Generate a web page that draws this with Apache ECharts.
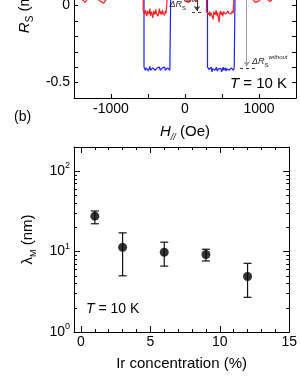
<!DOCTYPE html>
<html><head><meta charset="utf-8">
<script src="https://cdn.jsdelivr.net/npm/echarts@6/dist/echarts.min.js"></script>
<style>html,body{margin:0;padding:0;background:#fff;overflow:hidden}
#wrap{position:relative;width:300px;height:388px;overflow:hidden}
#c{position:absolute;left:0;top:-90px;width:300px;height:478px}</style>
</head><body><div id="wrap"><div id="c"></div></div><script>
// ---- Panel (a): Rs vs H ----
const redField = [
 -1500,-1450,-1400,-1350,-1300,-1250,-1200,-1150,-1100,-1050,-1000,-950,-900,-850,-800,-750,-700,-650,-600,-565,
 -565,-555,-545,-535,-525,-515,-505,-495,-485,-475,-465,-455,-445,-435,-425,-415,-405,-395,-385,-375,-365,-355,-345,-335,-325,-315,-305,-295,-285,-275,-265,-255,-245,-240,
 -240,-200,-150,-100,-50,0,50,100,150,200,250,290,
 290,300,310,320,330,340,350,360,370,380,390,400,410,420,430,440,450,460,470,480,490,500,510,520,530,540,550,560,570,580,590,600,610,620,630,640,650,662,
 662,700,750,800,850,900,950,1000,1050,1100,1150,1200,1250,1300,1350,1400,1450,1500
];
const redRs = [
 0.06,0.05,0.045,0.02,0.055,0.06,0.05,0.03,0.015,0.05,0.06,0.045,0.065,0.05,0.055,0.06,0.04,0.055,0.05,0.05,
 -0.03,
 -0.04,-0.06,-0.03,-0.05,-0.07,-0.035,-0.045,-0.055,-0.02,-0.065,-0.04,-0.05,-0.08,-0.035,-0.045,-0.06,-0.025,-0.05,-0.04,-0.07,-0.045,-0.02,-0.055,-0.04,-0.06,-0.03,-0.05,-0.045,-0.065,-0.035,-0.05,-0.04,
 -0.05,
 0.05,0.05,0.06,0.045,0.055,0.03,0.02,0.05,0.025,0.06,0.05,0.05,
 -0.04,
 -0.05,-0.03,-0.06,-0.04,-0.07,-0.045,-0.035,-0.055,-0.09,-0.04,-0.05,-0.06,-0.03,-0.065,-0.045,-0.04,-0.11,-0.05,-0.035,-0.06,-0.045,-0.07,-0.04,-0.05,-0.03,-0.055,-0.045,-0.065,-0.035,-0.05,-0.06,-0.04,-0.055,-0.045,-0.035,-0.05,
 -0.05,
 0.05,0.05,0.06,0.045,0.055,0.05,0.02,0.03,0.06,0.045,0.025,0.05,0.06,0.055,0.045,0.05,0.06,0.05
];
const blueField = [
 -1500,-1450,-1400,-1350,-1300,-1250,-1200,-1150,-1100,-1050,-1000,-950,-900,-850,-800,-750,-700,-650,-600,-554,
 -554,-545,-535,-525,-515,-505,-495,-485,-475,-465,-455,-445,-435,-425,-415,-405,-395,-385,-375,-365,-355,-345,-335,-325,-315,-305,-295,-285,-275,-265,-255,-245,-235,-225,-215,-205,-193,
 -193,-150,-100,-50,0,50,100,150,200,250,304,
 304,315,325,335,345,355,365,375,385,395,405,415,425,435,445,455,465,475,485,495,505,515,525,535,545,555,565,575,585,595,605,615,625,635,645,655,665,676,
 676,700,750,800,850,900,950,1000,1050,1100,1150,1200,1250,1300,1350,1400,1450,1500
];
const blueRs = [
 0.07,0.075,0.065,0.07,0.08,0.07,0.065,0.075,0.07,0.07,0.065,0.08,0.07,0.075,0.07,0.065,0.07,0.075,0.07,0.07,
 -0.40,
 -0.41,-0.42,-0.405,-0.415,-0.40,-0.425,-0.41,-0.395,-0.42,-0.41,-0.43,-0.405,-0.415,-0.40,-0.42,-0.41,-0.425,-0.405,-0.415,-0.41,-0.40,-0.42,-0.41,-0.43,-0.405,-0.415,-0.41,-0.40,-0.42,-0.41,-0.425,-0.405,-0.415,-0.41,-0.42,
 -0.41,
 0.07,0.075,0.065,0.07,0.07,0.075,0.07,0.065,0.07,0.075,0.07,
 -0.40,
 -0.405,-0.415,-0.41,-0.42,-0.40,-0.43,-0.41,-0.415,-0.405,-0.42,-0.41,-0.40,-0.425,-0.415,-0.41,-0.42,-0.405,-0.41,-0.43,-0.415,-0.40,-0.42,-0.41,-0.405,-0.425,-0.41,-0.415,-0.40,-0.42,-0.41,-0.43,-0.405,-0.415,-0.41,-0.42,-0.405,
 -0.41,
 0.07,0.075,0.07,0.065,0.07,0.08,0.07,0.075,0.07,0.065,0.07,0.075,0.07,0.07,0.065,0.07,0.075,0.07
];
const rsTickLabels = [0, -0.5];
const hTickLabels = [-1000, 0, 1000];

// ---- Panel (b): lambda_M vs Ir concentration ----
const irConc   = [1, 3, 6, 9, 12];
const lambdaM  = [27.6, 11.3, 9.8, 9.2, 4.9];
const lambdaHi = [32.0, 17.1, 13.1, 10.7, 7.15];
const lambdaLo = [22.2, 5.0, 6.6, 7.65, 2.7];
const irTickLabels = [0, 5, 10, 15];
const irMinorTicks = [0,1,2,3,4,5,6,7,8,9,10,11,12,13,14,15];
const lambdaTickLabels = [1, 10, 100];
const lambdaMinorTicks = [2,3,4,5,6,7,8,9,20,30,40,50,60,70,80,90,200];

const FONT = 'Liberation Sans';
const OFF = 90; // container is shifted up by this many pixels
const zip = (a, b) => a.map((v, i) => [v, b[i]]);
const isIn = (arr, v) => arr.some(t => Math.abs(t - v) < 1e-6);

const axLine = {show: true, onZero: false, lineStyle: {color: '#000', width: 1}};
const noLine = {show: false, onZero: false};
const rsRich = {d:{fontSize:9,fontStyle:'italic',fontFamily:FONT,color:'#222'},
                r:{fontSize:9,fontStyle:'italic',fontFamily:FONT,color:'#222'},
                s:{fontSize:6,fontFamily:FONT,color:'#222',verticalAlign:'bottom',lineHeight:14},
                p:{fontSize:6,fontStyle:'italic',fontFamily:FONT,color:'#222',verticalAlign:'top',lineHeight:14}};

const option = {
  animation: false,
  backgroundColor: '#fff',
  textStyle: {fontFamily: FONT},
  grid: [
    {left: 74, right: 4, top: OFF - 87, bottom: 290, show: false},
    {left: 74, right: 4, top: OFF + 147, bottom: 56, show: false}
  ],
  xAxis: [
    {gridIndex: 0, type: 'value', min: -1500, max: 1500, interval: 500, position: 'bottom',
     axisLine: axLine, splitLine: {show: false},
     axisTick: {inside: true, length: 4, lineStyle: {color: '#000'}},
     axisLabel: {fontSize: 14, color: '#000', margin: 4, fontFamily: FONT,
       formatter: v => isIn(hTickLabels, v) ? String(v) : ''},
     name: '{i|H}{s|//}{n| (Oe)}', nameLocation: 'middle', nameGap: 24,
     nameTextStyle: {rich: {i:{fontSize:15,fontStyle:'italic',fontFamily:FONT,color:'#000'},
       s:{fontSize:9,fontStyle:'italic',fontFamily:FONT,color:'#000',verticalAlign:'bottom',lineHeight:20},
       n:{fontSize:15,fontFamily:FONT,color:'#000'}}}},
    {gridIndex: 0, type: 'value', min: -1500, max: 1500, interval: 500, position: 'top',
     axisLine: axLine, splitLine: {show: false},
     axisTick: {inside: true, length: 4, lineStyle: {color: '#000'}}, axisLabel: {show: false}},
    {gridIndex: 1, type: 'value', min: -0.5, max: 15, position: 'bottom',
     axisLine: axLine, splitLine: {show: false},
     axisTick: {inside: true, length: 6, customValues: irTickLabels, lineStyle: {color: '#000'}},
     axisLabel: {fontSize: 14, color: '#000', margin: 3, fontFamily: FONT, customValues: irTickLabels},
     name: 'Ir concentration (%)', nameLocation: 'middle', nameGap: 24,
     nameTextStyle: {fontSize: 15, color: '#000', fontFamily: FONT}},
    {gridIndex: 1, type: 'value', min: -0.5, max: 15, position: 'bottom',
     axisLine: noLine, splitLine: {show: false},
     axisTick: {inside: true, length: 3, customValues: irMinorTicks, lineStyle: {color: '#000'}},
     axisLabel: {show: false}},
    {gridIndex: 1, type: 'value', min: -0.5, max: 15, position: 'top',
     axisLine: axLine, splitLine: {show: false},
     axisTick: {inside: true, length: 6, customValues: irTickLabels, lineStyle: {color: '#000'}},
     axisLabel: {show: false}},
    {gridIndex: 1, type: 'value', min: -0.5, max: 15, position: 'top',
     axisLine: noLine, splitLine: {show: false},
     axisTick: {inside: true, length: 3, customValues: irMinorTicks, lineStyle: {color: '#000'}},
     axisLabel: {show: false}}
  ],
  yAxis: [
    {gridIndex: 0, type: 'value', min: -0.6, max: 0.6, interval: 0.1, position: 'left',
     axisLine: axLine, splitLine: {show: false},
     axisTick: {inside: true, length: 4, lineStyle: {color: '#000'}},
     axisLabel: {fontSize: 14, color: '#000', margin: 4, fontFamily: FONT,
       formatter: v => isIn(rsTickLabels, v) ? String(Math.round(v * 10) / 10) : ''},
     name: '{i|R}{s|S}{n| (mΩ)}', nameLocation: 'middle', nameGap: 31, nameRotate: 90,
     nameTextStyle: {rich: {i:{fontSize:15,fontStyle:'italic',fontFamily:FONT,color:'#000'},
       s:{fontSize:10,fontFamily:FONT,color:'#000',verticalAlign:'bottom',lineHeight:20},
       n:{fontSize:15,fontFamily:FONT,color:'#000'}}}},
    {gridIndex: 0, type: 'value', min: -0.6, max: 0.6, interval: 0.1, position: 'right',
     axisLine: axLine, splitLine: {show: false},
     axisTick: {inside: true, length: 4, lineStyle: {color: '#000'}}, axisLabel: {show: false}},
    {gridIndex: 1, type: 'log', logBase: 10, min: 1, max: 200, position: 'left',
     axisLine: axLine, splitLine: {show: false},
     axisTick: {inside: true, length: 6, customValues: lambdaTickLabels, lineStyle: {color: '#000'}},
     axisLabel: {fontSize: 14, color: '#000', margin: 4, fontFamily: FONT, customValues: lambdaTickLabels,
       formatter: v => '{n|10}{p|' + Math.round(Math.log10(v)) + '}',
       rich: {n:{fontSize:14,fontFamily:FONT,color:'#000'},
              p:{fontSize:9,fontFamily:FONT,color:'#000',verticalAlign:'top',lineHeight:20}}},
     name: '{l|λ}{s|M}{n| (nm)}', nameLocation: 'middle', nameGap: 36, nameRotate: 90,
     nameTextStyle: {rich: {l:{fontSize:15,fontFamily:FONT,color:'#000'},
       s:{fontSize:9,fontFamily:FONT,color:'#000',verticalAlign:'bottom',lineHeight:20},
       n:{fontSize:15,fontFamily:FONT,color:'#000'}}}},
    {gridIndex: 1, type: 'log', logBase: 10, min: 1, max: 200, position: 'left',
     axisLine: noLine, splitLine: {show: false},
     axisTick: {inside: true, length: 3, customValues: lambdaMinorTicks, lineStyle: {color: '#000'}},
     axisLabel: {show: false}},
    {gridIndex: 1, type: 'log', logBase: 10, min: 1, max: 200, position: 'right',
     axisLine: axLine, splitLine: {show: false},
     axisTick: {inside: true, length: 6, customValues: lambdaTickLabels, lineStyle: {color: '#000'}},
     axisLabel: {show: false}},
    {gridIndex: 1, type: 'log', logBase: 10, min: 1, max: 200, position: 'right',
     axisLine: noLine, splitLine: {show: false},
     axisTick: {inside: true, length: 3, customValues: lambdaMinorTicks, lineStyle: {color: '#000'}},
     axisLabel: {show: false}}
  ],
  series: [
    {type: 'line', xAxisIndex: 0, yAxisIndex: 0, data: zip(blueField, blueRs), showSymbol: false,
     lineStyle: {color: '#1f1fff', width: 1.2}, z: 2},
    {type: 'line', xAxisIndex: 0, yAxisIndex: 0, data: zip(redField, redRs), showSymbol: false,
     lineStyle: {color: '#ff1f1f', width: 1.2}, z: 3,
     markLine: {silent: true, symbol: ['none', 'none'], animation: false, label: {show: false},
       data: [
         [{coord: [162, 0.6], lineStyle: {color: '#333', width: 1, type: 'solid'}, symbol: 'none'},
          {coord: [162, -0.035], symbol: 'arrow', symbolSize: [5, 5]}],
         [{coord: [95, -0.045], lineStyle: {color: '#333', width: 1, type: [3, 3]}}, {coord: [243, -0.045]}],
         [{coord: [834, 0.6], lineStyle: {color: '#999', width: 1, type: 'solid'}, symbol: 'none'},
          {coord: [834, -0.395], symbol: 'arrow', symbolSize: [5, 5]}],
         [{coord: [743, -0.41], lineStyle: {color: '#333', width: 1, type: [3, 3]}}, {coord: [986, -0.41]}]
       ]},
     markPoint: {silent: true, symbol: 'circle', symbolSize: 0,
       data: [
         {coord: [158, 0.005], label: {show: true, position: 'left', distance: 0,
           formatter: '{d|Δ}{r|R}{s|S}{p|with}', rich: rsRich}},
         {coord: [905, -0.36], label: {show: true, position: 'right', distance: 0,
           formatter: '{d|Δ}{r|R}{s|S}{p|without}', rich: rsRich}}
       ]}},
    {type: 'custom', xAxisIndex: 2, yAxisIndex: 2, z: 4,
     data: irConc.map((x, i) => [x, lambdaM[i], lambdaLo[i], lambdaHi[i]]),
     renderItem: function (params, api) {
       const x = api.value(0);
       const pT = api.coord([x, api.value(3)]);
       const pB = api.coord([x, api.value(2)]);
       const w = 4;
       const st = {stroke: '#111', lineWidth: 1.2};
       return {type: 'group', children: [
         {type: 'line', shape: {x1: pT[0], y1: pT[1], x2: pB[0], y2: pB[1]}, style: st},
         {type: 'line', shape: {x1: pT[0] - w, y1: pT[1], x2: pT[0] + w, y2: pT[1]}, style: st},
         {type: 'line', shape: {x1: pB[0] - w, y1: pB[1], x2: pB[0] + w, y2: pB[1]}, style: st}
       ]};
     }},
    {type: 'scatter', xAxisIndex: 2, yAxisIndex: 2, z: 5, data: zip(irConc, lambdaM),
     symbol: 'circle', symbolSize: 9, itemStyle: {color: '#000'}}
  ],
  graphic: [
    {type: 'text', left: 14, top: OFF + 110, style: {text: '(b)', fontSize: 14, fontFamily: FONT, fill: '#000'}},
    {type: 'text', right: 13, top: OFF + 76, style: {text: '{i|T}{n| = 10 K}', fontFamily: FONT,
      rich: {i:{fontSize:15,fontStyle:'italic',fontFamily:FONT,fill:'#000'}, n:{fontSize:15,fontFamily:FONT,fill:'#000'}}}},
    {type: 'text', left: 86, top: OFF + 302, style: {text: '{i|T}{n| = 10 K}', fontFamily: FONT,
      rich: {i:{fontSize:14,fontStyle:'italic',fontFamily:FONT,fill:'#000'}, n:{fontSize:14,fontFamily:FONT,fill:'#000'}}}}
  ]
};
const chart = echarts.init(document.getElementById('c'), null, {renderer: 'canvas'});
chart.setOption(option);
</script></body></html>
